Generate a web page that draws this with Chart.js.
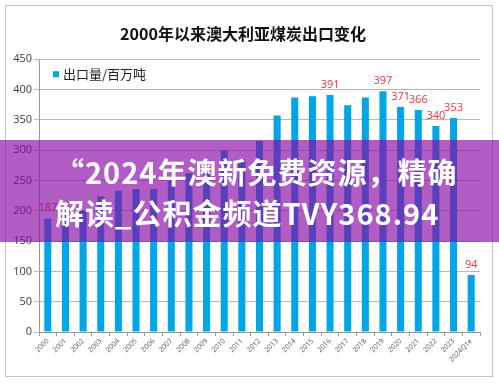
<!DOCTYPE html>
<html>
<head>
<meta charset="utf-8">
<script src="https://cdn.jsdelivr.net/npm/chart.js@4"></script>
<style>
  html, body { margin: 0; padding: 0; background: #fff; }
  #wrap { position: relative; width: 499px; height: 383px; overflow: hidden; }
  #c { position: absolute; left: 0; top: 0; }
  #band { position: absolute; left: 0; top: 140px; width: 499px; height: 102px;
          background: rgba(136, 9, 166, 0.66); }
  #band div { position: absolute; left: 55px; white-space: nowrap; color: #fff;
              font-family: "Noto Sans CJK SC", "Noto Sans", sans-serif; font-weight: 700;
              font-size: 29px; line-height: 41px; letter-spacing: 1px; }
</style>
</head>
<body>
<div id="wrap">
  <canvas id="c" width="499" height="383"></canvas>
  <div id="band">
    <div style="top:11px">“2024年澳新免费资源，精确</div>
    <div style="top:52px">解读_公积金频道TVY368.94</div>
  </div>
</div>
<script>
const years = ['2000','2001','2002','2003','2004','2005','2006','2007','2008','2009','2010','2011','2012',
               '2013','2014','2015','2016','2017','2018','2019','2020','2021','2022','2023','2024Q1e'];
const exportsMt = [187, 194, 200, 224, 233, 236, 236, 250, 262, 272, 300, 285, 315,
                   357, 387, 389, 391, 374, 387, 397, 371, 366, 340, 353, 94];
const labeledYears = ['2000','2016','2019','2020','2021','2022','2023','2024Q1e'];
const yTicks = [0, 50, 100, 150, 200, 250, 300, 350, 400, 450];
const chartTitle = '2000年以来澳大利亚煤炭出口变化';
const seriesName = '出口量/百万吨';

const BAR = '#00A6E6';

const framePlugin = {
  id: 'frame',
  beforeDraw(chart) {
    const ctx = chart.ctx;
    ctx.save();
    ctx.fillStyle = '#fff';
    ctx.fillRect(0, 0, chart.width, chart.height);
    ctx.strokeStyle = '#c4c4c4';
    ctx.lineWidth = 1;
    ctx.strokeRect(5.5, 5.5, chart.width - 12, chart.height - 12);
    ctx.restore();
  }
};

const innerLegend = {
  id: 'innerLegend',
  afterDraw(chart) {
    const ctx = chart.ctx, a = chart.chartArea;
    ctx.save();
    ctx.fillStyle = BAR;
    ctx.fillRect(a.left + 14, a.top + 12, 6, 6);
    ctx.fillStyle = '#222';
    ctx.font = '13px "Noto Sans CJK SC", sans-serif';
    ctx.textBaseline = 'middle';
    ctx.fillText(chart.data.datasets[0].label, a.left + 24, a.top + 15);
    ctx.restore();
  }
};

const valueLabels = {
  id: 'valueLabels',
  afterDatasetsDraw(chart) {
    const ctx = chart.ctx;
    const meta = chart.getDatasetMeta(0);
    ctx.save();
    ctx.fillStyle = '#E8383D';
    ctx.font = '11px "Open Sans", sans-serif';
    ctx.textAlign = 'center';
    ctx.textBaseline = 'bottom';
    meta.data.forEach((bar, i) => {
      if (!labeledYears.includes(years[i])) return;
      ctx.fillText(String(exportsMt[i]), bar.x, bar.y - 5);
    });
    ctx.restore();
  }
};

new Chart(document.getElementById('c'), {
  type: 'bar',
  data: {
    labels: years,
    datasets: [{
      label: seriesName,
      data: exportsMt,
      backgroundColor: BAR,
      borderWidth: 0,
      barPercentage: 0.4,
      categoryPercentage: 1.0
    }]
  },
  options: {
    responsive: false,
    animation: false,
    layout: { padding: { top: 5, left: 6, right: 19, bottom: 6 } },
    plugins: {
      legend: { display: false },
      tooltip: { enabled: false },
      title: {
        display: true,
        text: chartTitle,
        color: '#111',
        font: { family: '"Noto Sans CJK SC", sans-serif', size: 16, weight: 'bold', lineHeight: 1.2 },
        padding: { top: 19, bottom: 16 }
      }
    },
    scales: {
      x: {
        grid: { display: true, drawOnChartArea: false, offset: true, tickLength: 4, color: '#999' },
        border: { display: true, color: '#999' },
        ticks: {
          autoSkip: false, minRotation: 45, maxRotation: 45, padding: 1,
          color: '#555', font: { family: '"Open Sans", sans-serif', size: 7 }
        },
        afterFit(scale) { scale.height = 45; }
      },
      y: {
        min: 0, max: 450,
        afterBuildTicks(scale) { scale.ticks = yTicks.map(v => ({ value: v })); },
        grid: { color: '#b8b8b8', tickLength: 5, drawTicks: true },
        border: { display: true, color: '#999' },
        ticks: { color: '#404040', padding: 2, font: { family: '"Open Sans", sans-serif', size: 11 } },
        afterFit(scale) { scale.width = 33; }
      }
    }
  },
  plugins: [framePlugin, innerLegend, valueLabels]
});
</script>
</body>
</html>
